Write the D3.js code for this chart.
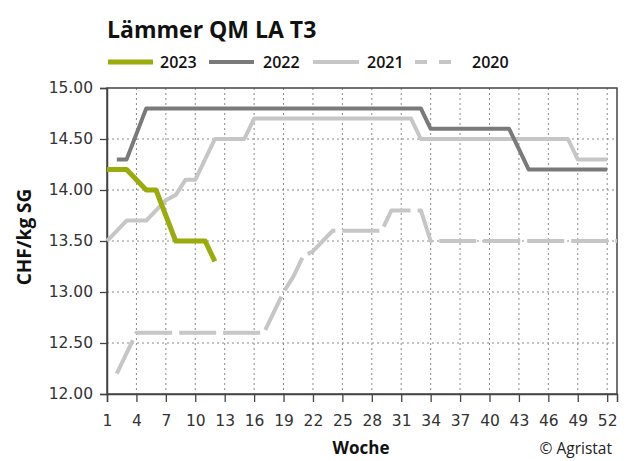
<!DOCTYPE html>
<html><head><meta charset="utf-8">
<script src="https://cdn.jsdelivr.net/npm/d3@7"></script>
<style>body{margin:0;background:#fff}svg{display:block}</style>
</head><body>
<script>
const weeks2023 = [1,2,3,4,5,6,7,8,9,10,11,12];
const values2023 = [14.2,14.2,14.2,14.1,14.0,14.0,13.75,13.5,13.5,13.5,13.5,13.3];
const weeks2022 = d3.range(2,53);
const values2022 = [14.3,14.3,14.55,14.8,14.8,14.8,14.8,14.8,14.8,14.8,14.8,14.8,14.8,14.8,14.8,14.8,14.8,14.8,14.8,14.8,14.8,14.8,14.8,14.8,14.8,14.8,14.8,14.8,14.8,14.8,14.8,14.8,14.6,14.6,14.6,14.6,14.6,14.6,14.6,14.6,14.6,14.4,14.2,14.2,14.2,14.2,14.2,14.2,14.2,14.2,14.2];
const weeks2021 = d3.range(1,53);
const values2021 = [13.5,13.6,13.7,13.7,13.7,13.8,13.9,13.95,14.1,14.1,14.3,14.5,14.5,14.5,14.5,14.7,14.7,14.7,14.7,14.7,14.7,14.7,14.7,14.7,14.7,14.7,14.7,14.7,14.7,14.7,14.7,14.7,14.5,14.5,14.5,14.5,14.5,14.5,14.5,14.5,14.5,14.5,14.5,14.5,14.5,14.5,14.5,14.5,14.3,14.3,14.3,14.3];
const weeks2020 = d3.range(2,54);
const values2020 = [12.2,12.4,12.6,12.6,12.6,12.6,12.6,12.6,12.6,12.6,12.6,12.6,12.6,12.6,12.6,12.6,12.8,13.0,13.15,13.35,13.4,13.5,13.6,13.6,13.6,13.6,13.6,13.6,13.8,13.8,13.8,13.8,13.5,13.5,13.5,13.5,13.5,13.5,13.5,13.5,13.5,13.5,13.5,13.5,13.5,13.5,13.5,13.5,13.5,13.5,13.5,13.5];
const xTicks = [1,4,7,10,13,16,19,22,25,28,31,34,37,40,43,46,49,52];
const yTicks = [12.0,12.5,13.0,13.5,14.0,14.5,15.0];
const seriesNames = ["2023","2022","2021","2020"];

const W=630,H=461;
const svg=d3.select("body").append("svg").attr("width",W).attr("height",H);
const L=107,R=617,T=88,B=394;
const x=d3.scaleLinear().domain([1,53]).range([L,R]);
const y=d3.scaleLinear().domain([12,15]).range([B,T]);

// grid
const g=svg.append("g");
g.selectAll(".vg").data(xTicks.slice(1)).join("line")
 .attr("x1",d=>x(d)).attr("x2",d=>x(d)).attr("y1",T).attr("y2",B)
 .attr("stroke","#8a8a8a").attr("stroke-width",1).attr("stroke-dasharray","2,3");
g.selectAll(".hg").data(yTicks.slice(1,-1)).join("line")
 .attr("x1",L).attr("x2",R).attr("y1",d=>y(d)).attr("y2",d=>y(d))
 .attr("stroke","#8a8a8a").attr("stroke-width",1).attr("stroke-dasharray","2,3");

// frame
svg.append("rect").attr("x",L).attr("y",T).attr("width",R-L).attr("height",B-T)
 .attr("fill","none").attr("stroke","#444").attr("stroke-width",1.5);

// axes
const ya=svg.append("g").attr("transform",`translate(${L},0)`)
 .call(d3.axisLeft(y).tickValues(yTicks).tickFormat(d3.format(".2f")).tickSize(7).tickPadding(7));
const xa=svg.append("g").attr("transform",`translate(0,${B})`)
 .call(d3.axisBottom(x).tickValues(xTicks).tickFormat(d3.format("d")).tickSize(8).tickPadding(13));
[ya,xa].forEach(a=>{
 a.select(".domain").attr("stroke","#444").attr("stroke-width",1.5);
 a.selectAll(".tick line").attr("stroke","#444").attr("stroke-width",1.3);
 a.selectAll("text").attr("font-family","DejaVu Sans, Verdana, sans-serif").attr("font-size",15.5).attr("fill","#333");
});

const line=d3.line().x(d=>x(d[0])).y(d=>y(d[1]));
function draw(ws,vs,color,width,dash){
 svg.append("path").datum(ws.map((w,i)=>[w,vs[i]]))
  .attr("d",line).attr("fill","none").attr("stroke",color).attr("stroke-width",width)
  .attr("stroke-linejoin","round").attr("stroke-linecap","butt")
  .attr("stroke-dasharray",dash||null);
}
const colors={"2023":"#9aab0c","2022":"#7a7a7a","2021":"#c6c6c6","2020":"#c6c6c6"};
draw(weeks2020,values2020,colors["2020"],4,"37,7");
draw(weeks2021,values2021,colors["2021"],4);
draw(weeks2022,values2022,colors["2022"],4);
draw(weeks2023,values2023,colors["2023"],5);

// title
svg.append("text").attr("x",107).attr("y",38).text("Lämmer QM LA T3")
 .attr("font-family","Open Sans, sans-serif").attr("font-weight","bold").attr("font-size",23).attr("fill","#111");

// legend
const leg=[{x0:108,x1:153,tx:160,w:5},{x0:209,x1:254,tx:263,w:4},{x0:313,x1:359,tx:367,w:4},{x0:415,x1:451,tx:472,w:4,dash:"12,12"}];
seriesNames.forEach((n,i)=>{
 const l=leg[i];
 svg.append("line").attr("x1",l.x0).attr("x2",l.x1).attr("y1",62).attr("y2",62)
  .attr("stroke",colors[n]).attr("stroke-width",l.w).attr("stroke-dasharray",l.dash||null);
 svg.append("text").attr("x",l.tx).attr("y",68).text(n)
  .attr("font-family","Open Sans, sans-serif").attr("font-weight",600).attr("font-size",16).attr("fill","#111");
});

// axis titles
svg.append("text").attr("transform","translate(31,237) rotate(-90)").attr("text-anchor","middle")
 .text("CHF/kg SG").attr("font-family","Open Sans, sans-serif").attr("font-weight","bold").attr("font-size",19).attr("fill","#111");
svg.append("text").attr("x",361).attr("y",454).attr("text-anchor","middle").text("Woche")
 .attr("font-family","Open Sans, sans-serif").attr("font-weight","bold").attr("font-size",17).attr("fill","#111");
svg.append("text").attr("x",612).attr("y",454).attr("text-anchor","end").text("© Agristat")
 .attr("font-family","Open Sans, sans-serif").attr("font-size",15.5).attr("fill","#222");
</script>
</body></html>
